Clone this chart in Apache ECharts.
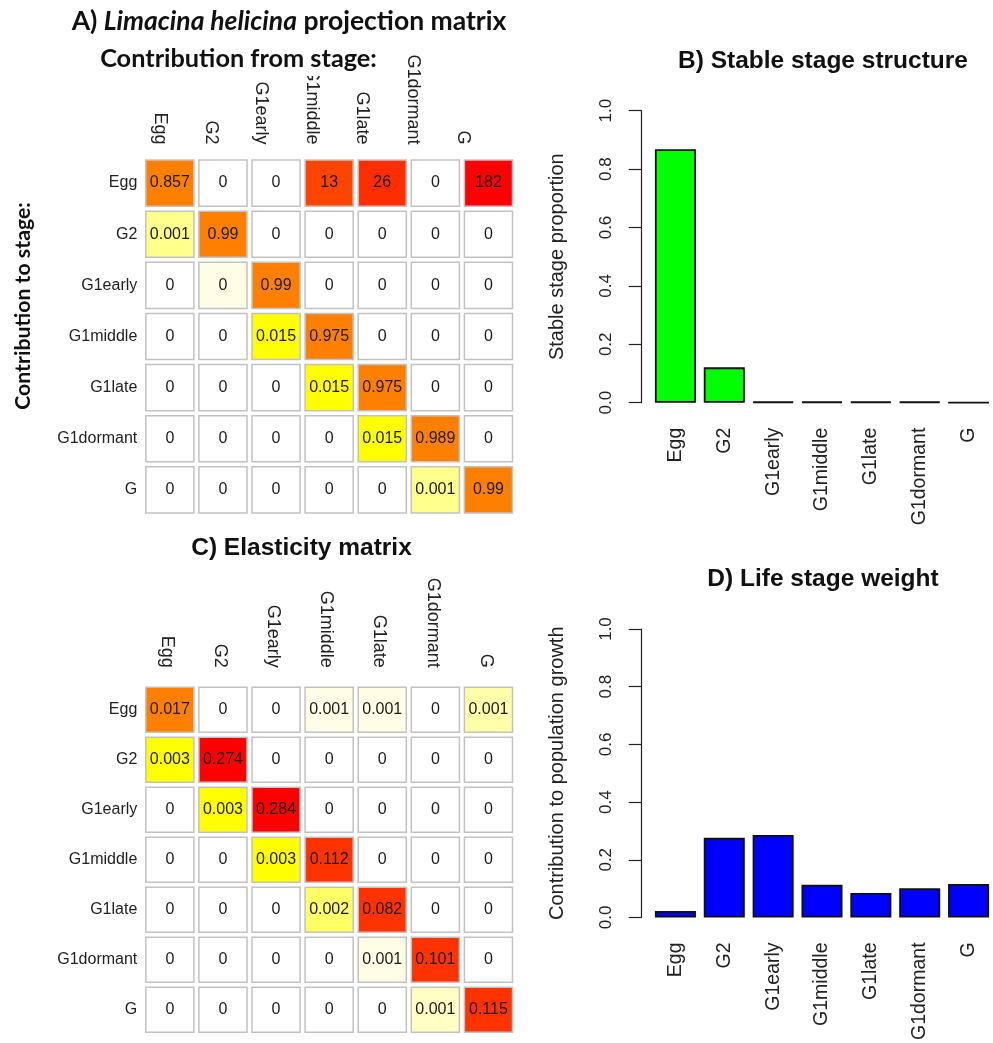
<!DOCTYPE html>
<html>
<head>
<meta charset="utf-8">
<script src="https://cdn.jsdelivr.net/npm/echarts@6/dist/echarts.min.js"></script>
<style>
html,body{margin:0;padding:0;background:#fff;}
#chart{width:993px;height:1043px;}
</style>
</head>
<body>
<div id="chart"></div>
<script>
// ---- data ----
const stages = ['Egg', 'G2', 'G1early', 'G1middle', 'G1late', 'G1dormant', 'G'];
// projection matrix: rows = contribution to stage, cols = contribution from stage
const projEgg       = [0.857, 0, 0, 13, 26, 0, 182];
const projG2        = [0.001, 0.99, 0, 0, 0, 0, 0];
const projG1early   = [0, 0.0003, 0.99, 0, 0, 0, 0];
const projG1middle  = [0, 0, 0.015, 0.975, 0, 0, 0];
const projG1late    = [0, 0, 0, 0.015, 0.975, 0, 0];
const projG1dormant = [0, 0, 0, 0, 0.015, 0.989, 0];
const projG         = [0, 0, 0, 0, 0, 0.001, 0.99];
// elasticity matrix
const elasEgg       = [0.017, 0, 0, 0.0006, 0.0006, 0, 0.0013];
const elasG2        = [0.003, 0.274, 0, 0, 0, 0, 0];
const elasG1early   = [0, 0.003, 0.284, 0, 0, 0, 0];
const elasG1middle  = [0, 0, 0.003, 0.112, 0, 0, 0];
const elasG1late    = [0, 0, 0, 0.002, 0.082, 0, 0];
const elasG1dormant = [0, 0, 0, 0, 0.0007, 0.101, 0];
const elasG         = [0, 0, 0, 0, 0, 0.001, 0.115];
// stable stage structure and life stage weight
const stableStage = [0.868, 0.121, 0.003, 0.003, 0.003, 0.003, 0.001];
const stageWeight = [0.022, 0.276, 0.286, 0.113, 0.085, 0.101, 0.116];
const yTicks = [0, 0.2, 0.4, 0.6, 0.8, 1.0];

// ---- build ----
const projRows = [projEgg, projG2, projG1early, projG1middle, projG1late, projG1dormant, projG];
const elasRows = [elasEgg, elasG2, elasG1early, elasG1middle, elasG1late, elasG1dormant, elasG];
function toCells(rows) {
  const out = [];
  rows.forEach((r, i) => r.forEach((v, j) => out.push([j, i, v])));
  return out;
}
function fmt(v) { return String(Math.round(v * 1000) / 1000); }

const SANS = '"Liberation Sans", Arial, sans-serif';
const CAL = 'Lato, "Open Sans", sans-serif';

function renderCell(params, api) {
  const c = api.coord([api.value(0), api.value(1)]);
  const s = api.size([1, 1]);
  const w = s[0] - 5, h = s[1] - 5;
  return {
    type: 'group',
    children: [
      { type: 'rect', shape: { x: c[0] - w / 2, y: c[1] - h / 2, width: w, height: h },
        style: { fill: api.visual('color'), stroke: '#c2c2c2', lineWidth: 1.5 } },
      { type: 'text', x: c[0], y: c[1],
        style: { text: fmt(api.value(2)), align: 'center', verticalAlign: 'middle',
                 textAlign: 'center', textVerticalAlign: 'middle',
                 font: '16px ' + SANS, fill: '#1a1a1a' } }
    ]
  };
}

const chart = echarts.init(document.getElementById('chart'));

const matXAxis = (gi, margin, showLabel) => ({
  type: 'category', gridIndex: gi, data: stages, position: 'top',
  axisLine: { show: false }, axisTick: { show: false }, splitLine: { show: false },
  axisLabel: { show: showLabel, rotate: -90, margin: margin, fontSize: 18, fontFamily: SANS, color: '#222',
               verticalAlign: 'middle', interval: 0 }
});
const matYAxis = (gi) => ({
  type: 'category', gridIndex: gi, data: stages, inverse: true,
  axisLine: { show: false }, axisTick: { show: false }, splitLine: { show: false },
  axisLabel: { margin: 6, fontSize: 16, fontFamily: SANS, color: '#222', interval: 0 }
});
const labelYAxis = (gi) => ({ type: 'value', gridIndex: gi, min: 0, max: 1, show: false });
const barXAxis = (gi) => ({
  type: 'category', gridIndex: gi, data: stages,
  axisLine: { show: false }, axisTick: { show: false },
  axisLabel: { rotate: 90, margin: 25, fontSize: 19.5, fontFamily: SANS, color: '#222', interval: 0 }
});
const barYAxis = (gi, name) => ({
  type: 'value', gridIndex: gi, min: 0, max: 1, interval: 0.2, offset: 9.3,
  name: name, nameLocation: 'middle', nameGap: 74, nameRotate: 90,
  nameTextStyle: { fontSize: 20, fontFamily: SANS, color: '#222' },
  axisLine: { show: true, lineStyle: { color: '#222', width: 1.2 } },
  axisTick: { show: true, length: 13, lineStyle: { color: '#222', width: 1.2 } },
  splitLine: { show: false },
  axisLabel: { rotate: 90, margin: 27, fontSize: 17, fontFamily: SANS, color: '#222',
               formatter: v => yTicks.indexOf(v) >= 0 ? v.toFixed(1) : '' }
});

const option = {
  backgroundColor: '#fff',
  animation: false,
  title: [
    { text: 'A) {it|Limacina helicina} projection matrix', left: 289, top: 8, textAlign: 'center', padding: 0,
      textStyle: { fontSize: 26.5, fontWeight: 'bold', fontFamily: CAL, color: '#111',
        rich: { it: { fontSize: 26.5, fontWeight: 'bold', fontStyle: 'italic', fontFamily: CAL, color: '#111' } } } },
    { text: 'Contribution from stage:', left: 238.5, top: 46, textAlign: 'center', padding: 0,
      textStyle: { fontSize: 25.3, fontWeight: 'bold', fontFamily: CAL, color: '#111' } },
    { text: 'B) Stable stage structure', left: 823, top: 49, textAlign: 'center', padding: 0,
      textStyle: { fontSize: 24.5, fontWeight: 'bold', fontFamily: SANS, color: '#111' } },
    { text: 'C) Elasticity matrix', left: 301.5, top: 536, textAlign: 'center', padding: 0,
      textStyle: { fontSize: 24.5, fontWeight: 'bold', fontFamily: SANS, color: '#111' } },
    { text: 'D) Life stage weight', left: 823, top: 567, textAlign: 'center', padding: 0,
      textStyle: { fontSize: 24.5, fontWeight: 'bold', fontFamily: SANS, color: '#111' } }
  ],
  graphic: [
    { type: 'rect', left: 299, top: 56, shape: { width: 28, height: 20 }, style: { fill: '#fff' }, z: 3 },
    { type: 'text', x: 23, y: 306, rotation: Math.PI / 2,
      style: { text: 'Contribution to stage:', font: 'bold 21.3px ' + CAL, fill: '#111',
               align: 'center', verticalAlign: 'middle', textAlign: 'center', textVerticalAlign: 'middle' }, z: 50 }
  ],
  grid: [
    { left: 143.3, top: 157.5, width: 371.7, height: 358 },
    { left: 143.3, top: 684.7, width: 371.7, height: 350 },
    { left: 651, top: 110.7, width: 346.9, height: 292 },
    { left: 651, top: 629, width: 346.9, height: 292 },
    { left: 134.75, top: 157.5, width: 353.5, height: 358 },
    { left: 140.5, top: 684.7, width: 371.7, height: 350 }
  ],
  xAxis: [matXAxis(0, 13, false), matXAxis(1, 17, false), barXAxis(2), barXAxis(3),
          matXAxis(4, 13, true), matXAxis(5, 17, true)],
  yAxis: [matYAxis(0), matYAxis(1), barYAxis(2, 'Stable stage proportion'), barYAxis(3, 'Contribution to population growth'),
          labelYAxis(4), labelYAxis(5)],
  visualMap: [
    { type: 'piecewise', show: false, seriesIndex: 0, dimension: 2,
      pieces: [
        { value: 0, color: '#ffffff' },
        { gt: 0, lt: 0.0005, color: '#fffde6' },
        { gte: 0.0005, lt: 0.005, color: '#ffff8c' },
        { gte: 0.005, lt: 0.1, color: '#ffff00' },
        { gte: 0.1, lt: 5, color: '#ff8000' },
        { gte: 5, lt: 20, color: '#ff4400' },
        { gte: 20, lt: 100, color: '#ff2e00' },
        { gte: 100, color: '#ff0000' }
      ] },
    { type: 'piecewise', show: false, seriesIndex: 1, dimension: 2,
      pieces: [
        { value: 0, color: '#ffffff' },
        { gt: 0, lt: 0.0008, color: '#fffde6' },
        { gte: 0.0008, lt: 0.0012, color: '#ffffc4' },
        { gte: 0.0012, lt: 0.0018, color: '#ffffaa' },
        { gte: 0.0018, lt: 0.0025, color: '#ffff66' },
        { gte: 0.0025, lt: 0.01, color: '#ffff00' },
        { gte: 0.01, lt: 0.05, color: '#ff8000' },
        { gte: 0.05, lt: 0.2, color: '#ff3300' },
        { gte: 0.2, color: '#ff0000' }
      ] }
  ],
  series: [
    { type: 'custom', xAxisIndex: 0, yAxisIndex: 0, data: toCells(projRows), renderItem: renderCell },
    { type: 'custom', xAxisIndex: 1, yAxisIndex: 1, data: toCells(elasRows), renderItem: renderCell },
    { type: 'bar', xAxisIndex: 2, yAxisIndex: 2, data: stableStage, barCategoryGap: '16%',
      itemStyle: { color: '#00ff00', borderColor: '#111', borderWidth: 1.8 } },
    { type: 'bar', xAxisIndex: 3, yAxisIndex: 3, data: stageWeight, barCategoryGap: '16%',
      itemStyle: { color: '#0000ff', borderColor: '#111', borderWidth: 1.8 } }
  ]
};
chart.setOption(option);
</script>
</body>
</html>
